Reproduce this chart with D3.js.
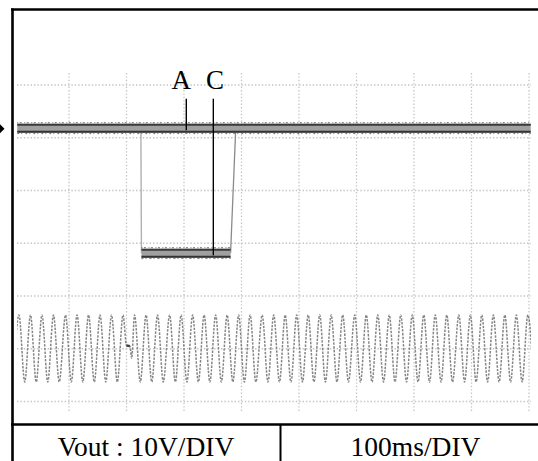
<!DOCTYPE html>
<html>
<head>
<meta charset="utf-8">
<script src="https://cdn.jsdelivr.net/npm/d3@7/dist/d3.min.js"></script>
<style>
  html, body { margin: 0; padding: 0; background: #fff; }
  svg { display: block; }
</style>
</head>
<body>
<svg id="chart" width="538" height="461"></svg>
<script>
// ---------- data (time in ms, voltage in V, 100 ms/DIV, 10 V/DIV) ----------
const timeGrid = [100, 200, 300, 400, 500, 600, 700, 800, 900];
const voltGrid = [-10, 0, 10, 20, 30, 40, 50];

// trace A: steady output
const traceATimes = [10, 903];
const traceAValues = [41.8, 41.8];

// trace C: drops during the interruption
const traceCTimes = [10, 225, 226, 381, 390, 903];
const traceCValues = [41.8, 41.8, 18.1, 18.1, 41.8, 41.8];

// AC input: extrema (with a dropout near 200 ms)
const acTimes = [3, 13, 23, 33, 43, 53, 63, 73, 83, 94, 104, 114, 124, 134, 144, 154, 164, 174, 184, 194,
  200, 206, 209,
  214, 224, 234, 244, 254, 264, 275, 285, 295, 305, 315, 325, 335, 345, 355, 365, 375, 385, 395, 405,
  415, 425, 436, 446, 456, 466, 476, 486, 496, 506, 516, 526, 536, 546, 556, 566, 576, 586, 597, 607,
  617, 627, 637, 647, 657, 667, 677, 687, 697, 707, 717, 727, 737, 747, 757, 767, 778, 788, 798, 808,
  818, 828, 838, 848, 858, 868, 878, 888, 898, 908];
const acValues = [-6.3, 6.4, -6.3, 6.4, -6.3, 6.4, -6.3, 6.4, -6.3, 6.4, -6.3, 6.4, -6.3, 6.4, -6.3, 6.4, -6.3, 6.4, -6.3, 6.4,
  0.6, 0.5, -1.8,
  6.4, -6.3, 6.4, -6.3, 6.4, -6.3, 6.4, -6.3, 6.4, -6.3, 6.4, -6.3, 6.4, -6.3, 6.4, -6.3, 6.4, -6.3, 6.4, -6.3,
  6.4, -6.3, 6.4, -6.3, 6.4, -6.3, 6.4, -6.3, 6.4, -6.3, 6.4, -6.3, 6.4, -6.3, 6.4, -6.3, 6.4, -6.3, 6.4, -6.3,
  6.4, -6.3, 6.4, -6.3, 6.4, -6.3, 6.4, -6.3, 6.4, -6.3, 6.4, -6.3, 6.4, -6.3, 6.4, -6.3, 6.4, -6.3, 6.4, -6.3,
  6.4, -6.3, 6.4, -6.3, 6.4, -6.3, 6.4, -6.3, 6.4, -6.3];

// annotations
const labelNames = ["A", "C"];
const labelTimes = [295, 354];
const leaderTimes = [304, 351];
const leaderEnds = [41.8, 18.1];
const labelVolt = 49.3;
const leaderTop = 47.4;

const footerTexts = ["Vout : 10V/DIV", "100ms/DIV"];

// ---------- scales ----------
const svg = d3.select("#chart");
const x = d3.scaleLinear().domain([100, 900]).range([69, 529]);
const y = d3.scaleLinear().domain([-10, 50]).range([401.5, 85]);

const screen = { x0: 17, x1: 531, y0: 73, y1: 413 };

svg.append("defs").append("clipPath").attr("id", "scr")
  .append("rect").attr("x", screen.x0).attr("y", screen.y0)
  .attr("width", screen.x1 - screen.x0).attr("height", screen.y1 - screen.y0);

// ---------- grid ----------
const grid = svg.append("g").attr("stroke", "#c4c4c4").attr("stroke-width", 1.3)
  .attr("stroke-dasharray", "1.4,2");
grid.selectAll("line.v").data(timeGrid).join("line").attr("class", "v")
  .attr("x1", d => x(d)).attr("x2", d => x(d))
  .attr("y1", screen.y0).attr("y2", screen.y1 - 1);
grid.selectAll("line.h").data(voltGrid).join("line").attr("class", "h")
  .attr("x1", screen.x0).attr("x2", screen.x1)
  .attr("y1", d => y(d)).attr("y2", d => y(d));

const plot = svg.append("g").attr("clip-path", "url(#scr)");

// ---------- AC waveform ----------
const acData = acTimes.map((t, i) => [t, acValues[i]]);
const line = d3.line().x(d => x(d[0])).y(d => y(d[1]));
plot.append("path").datum(acData)
  .attr("d", line.curve(d3.curveMonotoneX))
  .attr("fill", "none").attr("stroke", "#858585").attr("stroke-width", 1.5)
  .attr("stroke-dasharray", "2.4,1.3");
// dark dash at dropout
plot.append("line")
  .attr("x1", x(acTimes[20])).attr("x2", x(acTimes[21]))
  .attr("y1", y(acValues[20])).attr("y2", y(acValues[21]))
  .attr("stroke", "#444").attr("stroke-width", 2.5);

// ---------- traces ----------
const straight = d3.line().x(d => x(d[0])).y(d => y(d[1])).curve(d3.curveLinear);
const cData = traceCTimes.map((t, i) => [t, traceCValues[i]]);
const aData = traceATimes.map((t, i) => [t, traceAValues[i]]);

// C thin path (edges)
plot.append("path").datum(cData.slice(1, 3)).attr("d", straight)
  .attr("fill", "none").attr("stroke", "#b0b0b0").attr("stroke-width", 1.4);
plot.append("path").datum(cData.slice(3, 5)).attr("d", straight)
  .attr("fill", "none").attr("stroke", "#8a8a8a").attr("stroke-width", 1.3);

function band(seg) {
  const g = plot.append("g");
  g.append("path").datum(seg).attr("d", straight)
    .attr("fill", "none").attr("stroke", "#a0a0a0").attr("stroke-width", 9);
  g.append("path").datum(seg).attr("d", straight).attr("transform", "translate(0,-3.5)")
    .attr("fill", "none").attr("stroke", "#3a3a3a").attr("stroke-width", 1.8);
  g.append("path").datum(seg).attr("d", straight).attr("transform", "translate(0,-5.5)")
    .attr("fill", "none").attr("stroke", "#666").attr("stroke-width", 1)
    .attr("stroke-dasharray", "1,1.5,2,2.5");
  g.append("path").datum(seg).attr("d", straight).attr("transform", "translate(0,3.5)")
    .attr("fill", "none").attr("stroke", "#333").attr("stroke-width", 2);
  g.append("path").datum(seg).attr("d", straight).attr("transform", "translate(0,5.3)")
    .attr("fill", "none").attr("stroke", "#777").attr("stroke-width", 1)
    .attr("stroke-dasharray", "2,2,1,3");
}
band(aData);
band(cData.slice(2, 4));

// ---------- annotations ----------
svg.selectAll("line.leader").data(leaderTimes).join("line").attr("class", "leader")
  .attr("x1", d => x(d)).attr("x2", d => x(d))
  .attr("y1", y(leaderTop)).attr("y2", (d, i) => y(leaderEnds[i]) + 2)
  .attr("stroke", "#000").attr("stroke-width", 1.4);
svg.selectAll("text.lab").data(labelNames).join("text").attr("class", "lab")
  .attr("x", (d, i) => x(labelTimes[i])).attr("y", y(labelVolt))
  .attr("text-anchor", "middle")
  .attr("font-family", "Liberation Serif, Times New Roman, serif")
  .attr("font-size", 27).attr("fill", "#000").text(d => d);

// reference marker arrow at left
svg.append("path")
  .attr("d", `M0,${y(traceAValues[0]) + 0.5} m0,-4.5 l4.5,4.5 l-4.5,4.5 Z`)
  .attr("fill", "#000");

// ---------- frame and footer ----------
const frame = svg.append("g").attr("stroke", "#000").attr("fill", "none");
frame.append("line").attr("x1", 12.5).attr("x2", 12.5).attr("y1", 8.5).attr("y2", 461).attr("stroke-width", 2.6);
frame.append("line").attr("x1", 11).attr("x2", 538).attr("y1", 9.5).attr("y2", 9.5).attr("stroke-width", 2.6);
frame.append("line").attr("x1", 11).attr("x2", 538).attr("y1", 424.5).attr("y2", 424.5).attr("stroke-width", 2.4);
frame.append("line").attr("x1", 280.5).attr("x2", 280.5).attr("y1", 424).attr("y2", 461).attr("stroke-width", 2);

svg.selectAll("text.foot").data(footerTexts).join("text").attr("class", "foot")
  .attr("x", (d, i) => i === 0 ? 146 : 415.5).attr("y", 456)
  .attr("text-anchor", "middle")
  .attr("font-family", "Liberation Serif, Times New Roman, serif")
  .attr("font-size", 27.5).attr("fill", "#000").text(d => d);
</script>
</body>
</html>
